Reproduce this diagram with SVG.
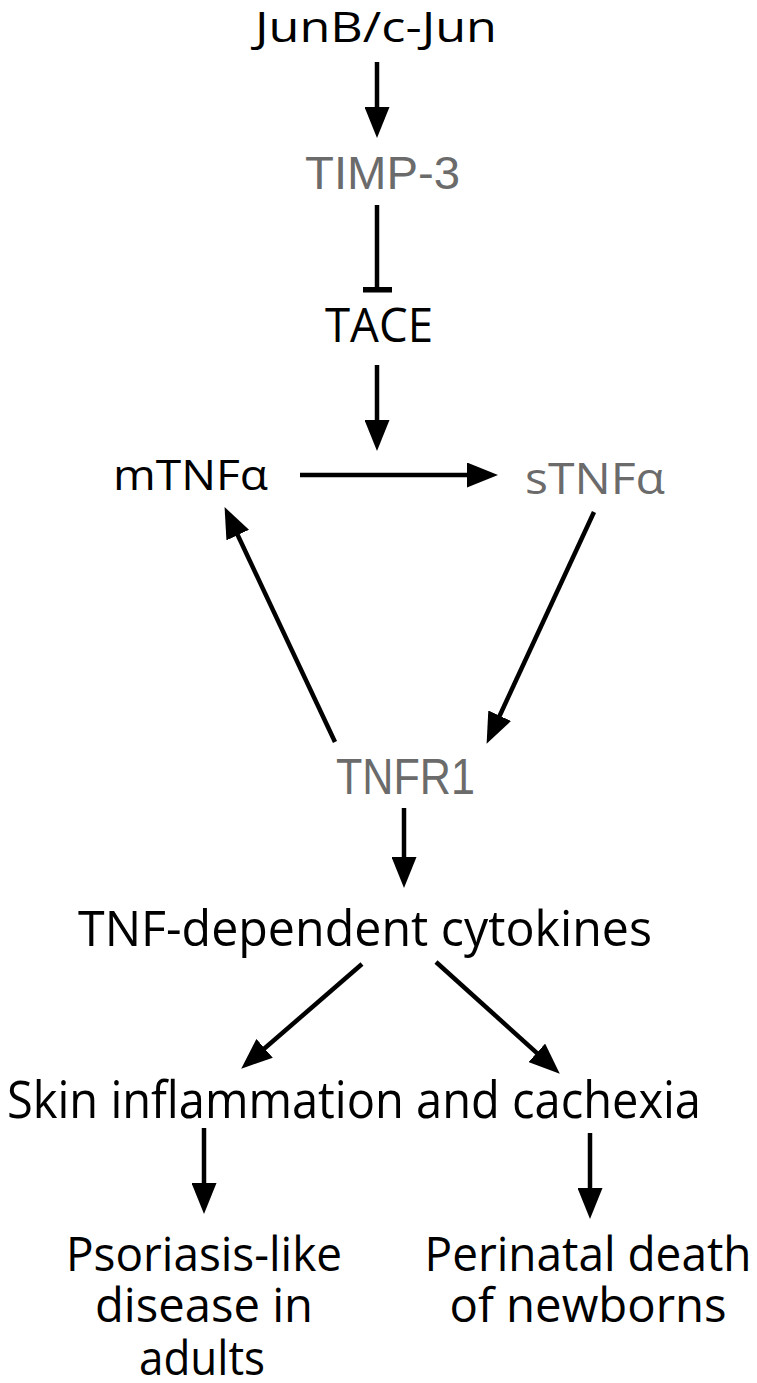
<svg xmlns="http://www.w3.org/2000/svg" width="757" height="1383" viewBox="0 0 757 1383">
<style>
.t{font-family:"Open Sans","Noto Sans","Liberation Sans",sans-serif;fill:#000;text-anchor:middle}
.g{fill:#6b6b6b}
.a{font-family:"Liberation Sans",Arial,sans-serif;fill:#6b6b6b;text-anchor:middle}
.c{stroke:#000;stroke-width:4.5;fill:none}
</style>
<defs>
<marker id="ah" markerUnits="userSpaceOnUse" markerWidth="31" markerHeight="25" refX="22" refY="12.5" orient="auto" viewBox="0 0 31 25">
<path d="M0,0 L31,12.5 L0,25 z" fill="#000"/>
</marker>
</defs>
<rect width="757" height="1383" fill="#fff"/>
<g id="connectors">
<line class="c" x1="377" y1="62" x2="377" y2="129" marker-end="url(#ah)"/>
<line class="c" x1="377" y1="205" x2="377" y2="290"/>
<rect x="363" y="287" width="29" height="5.5" fill="#000"/>
<line class="c" x1="377" y1="365" x2="377" y2="442" marker-end="url(#ah)"/>
<line class="c" x1="300" y1="475" x2="489" y2="475" marker-end="url(#ah)"/>
<line class="c" x1="335" y1="742" x2="228.4" y2="515.2" marker-end="url(#ah)"/>
<line class="c" x1="594" y1="512" x2="490.4" y2="735.7" marker-end="url(#ah)"/>
<line class="c" x1="404" y1="808" x2="404" y2="879" marker-end="url(#ah)"/>
<line class="c" x1="362" y1="964" x2="248" y2="1062.8" marker-end="url(#ah)"/>
<line class="c" x1="436" y1="962" x2="553.1" y2="1067.6" marker-end="url(#ah)"/>
<line class="c" x1="204" y1="1128" x2="204" y2="1205" marker-end="url(#ah)"/>
<line class="c" x1="590" y1="1133" x2="590" y2="1210" marker-end="url(#ah)"/>
</g>
<g id="junb"><text class="t" x="376" y="42" font-size="42" textLength="242" lengthAdjust="spacingAndGlyphs">JunB/c-Jun</text></g>
<g id="timp3"><text class="a" x="382.5" y="189" font-size="46" textLength="155" lengthAdjust="spacingAndGlyphs">TIMP-3</text></g>
<g id="tace"><text class="t" x="379" y="342" font-size="47" textLength="108" lengthAdjust="spacingAndGlyphs">TACE</text></g>
<g id="mtnfa"><text class="t" x="190.5" y="490" font-size="42" textLength="155" lengthAdjust="spacingAndGlyphs">mTNFα</text></g>
<g id="stnfa"><text class="t g" x="595" y="494" font-size="44" textLength="140" lengthAdjust="spacingAndGlyphs">sTNFα</text></g>
<g id="tnfr1"><text class="a" x="405.5" y="794" font-size="50" textLength="139" lengthAdjust="spacingAndGlyphs">TNFR1</text></g>
<g id="cytokines"><text class="t" x="365" y="946" font-size="50" textLength="574" lengthAdjust="spacingAndGlyphs">TNF-dependent cytokines</text></g>
<g id="skin"><text class="t" x="354" y="1118" font-size="52" textLength="694" lengthAdjust="spacingAndGlyphs">Skin inflammation and cachexia</text></g>
<g id="psoriasis">
<text class="t" x="204" y="1271" font-size="48" textLength="276" lengthAdjust="spacingAndGlyphs">Psoriasis-like</text>
<text class="t" x="204" y="1322" font-size="48" textLength="218" lengthAdjust="spacingAndGlyphs">disease in</text>
<text class="t" x="202" y="1375" font-size="48" textLength="126" lengthAdjust="spacingAndGlyphs">adults</text>
</g>
<g id="perinatal">
<text class="t" x="588" y="1271" font-size="48" textLength="327" lengthAdjust="spacingAndGlyphs">Perinatal death</text>
<text class="t" x="588" y="1322" font-size="48" textLength="277" lengthAdjust="spacingAndGlyphs">of newborns</text>
</g>
</svg>
